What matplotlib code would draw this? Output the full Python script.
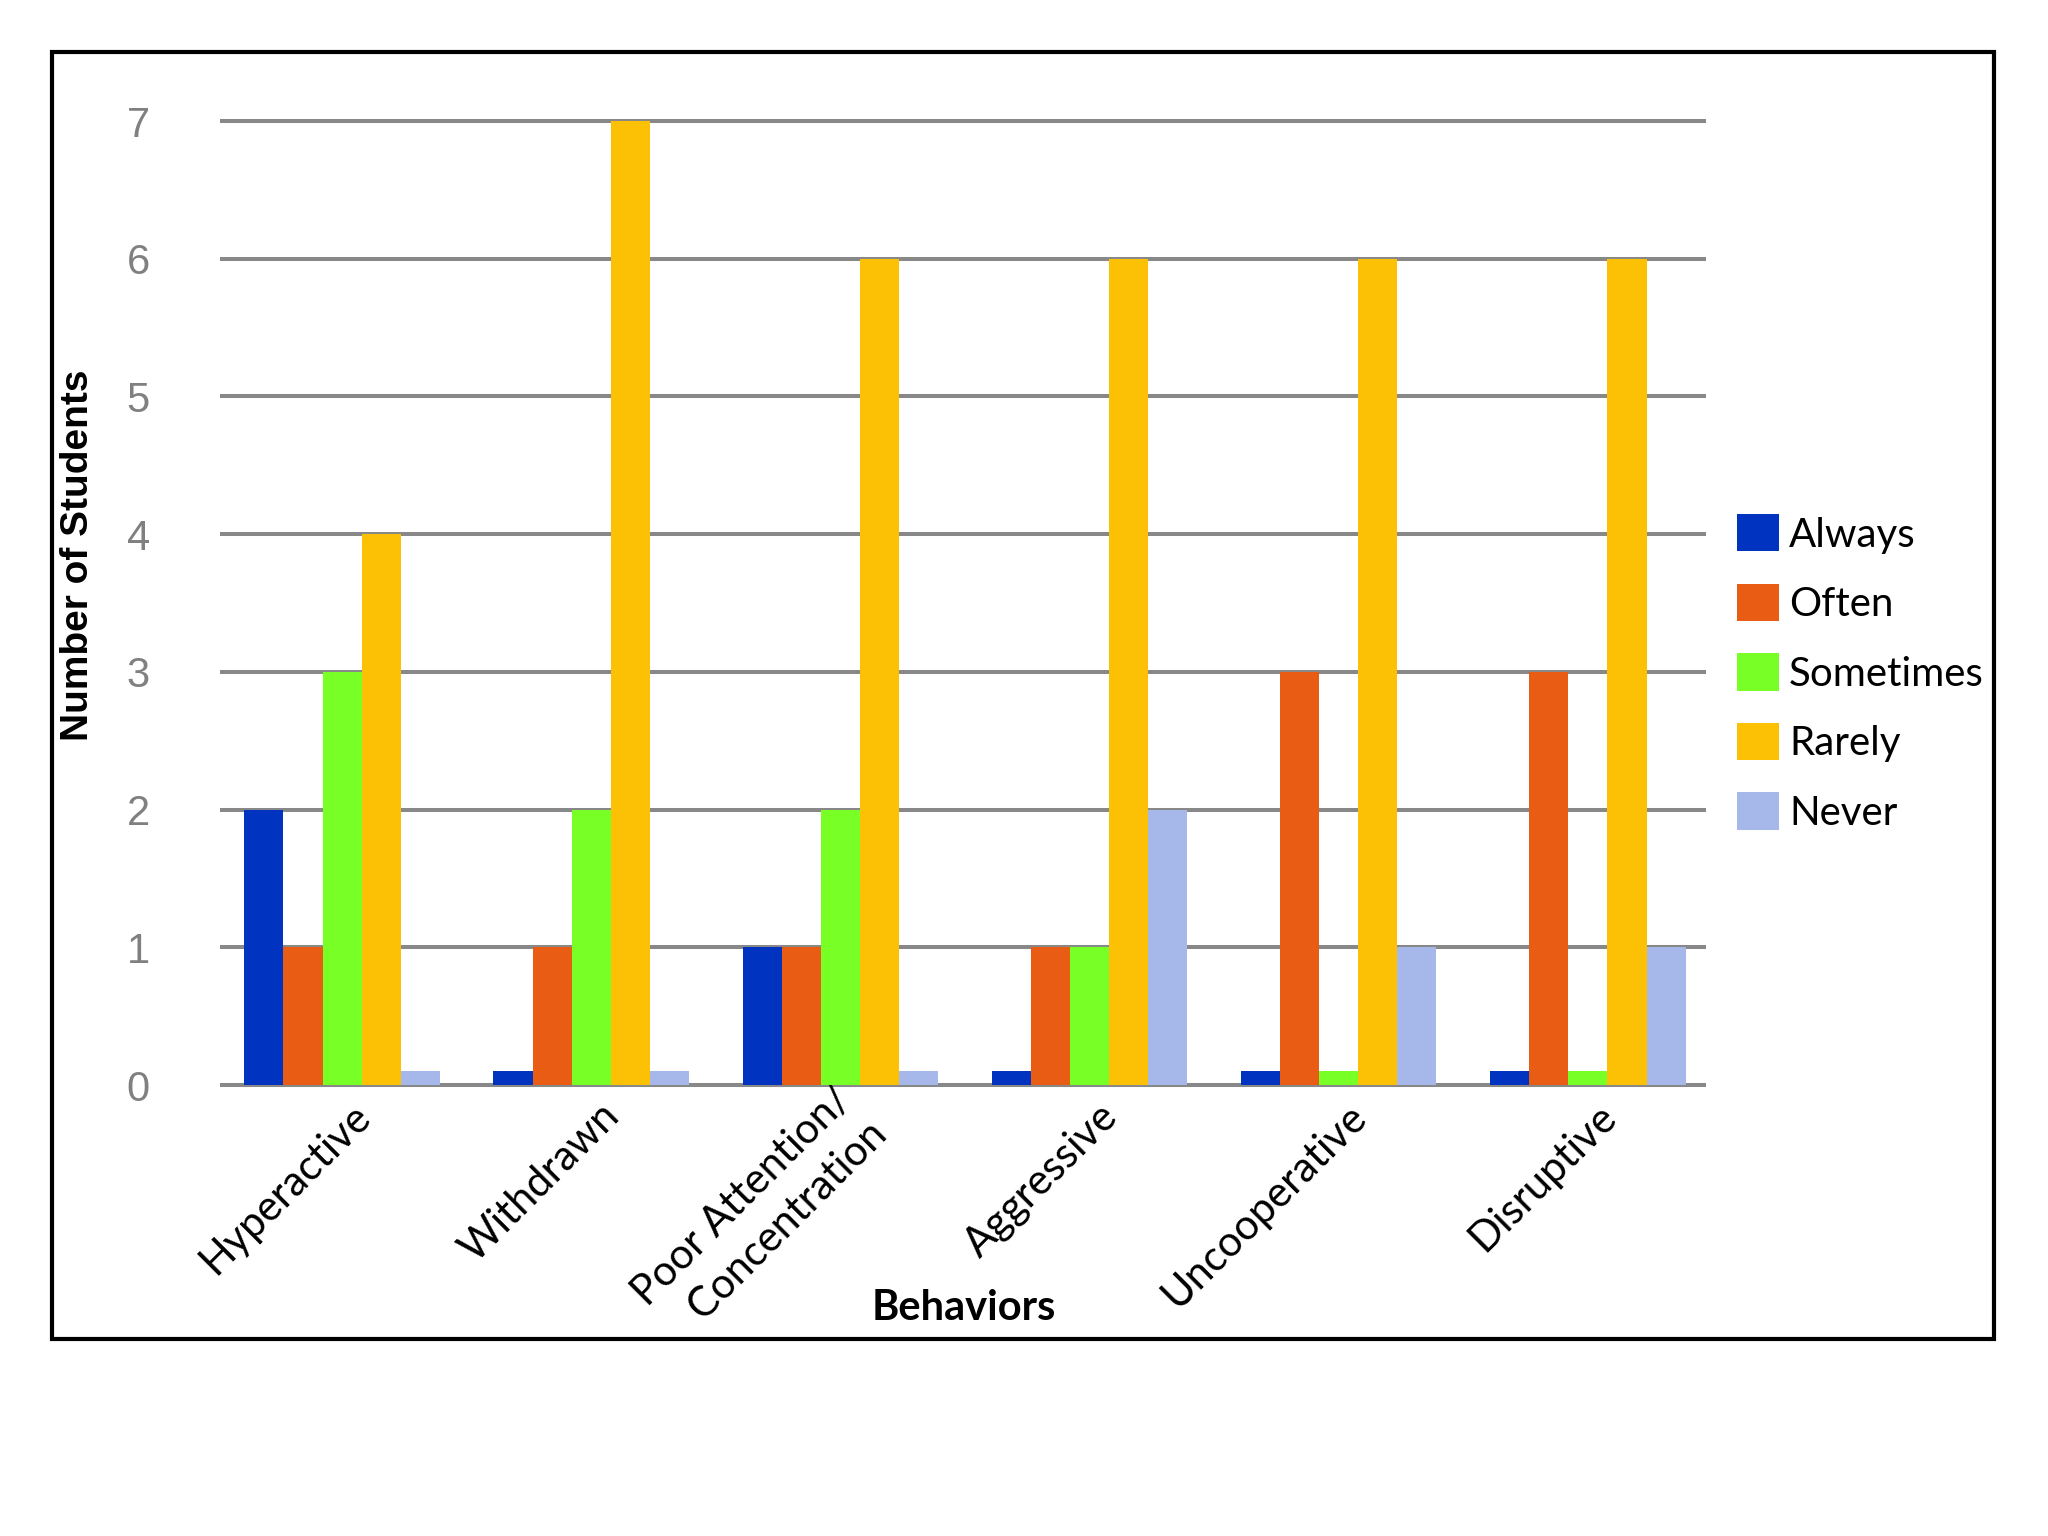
import numpy as np
import matplotlib.pyplot as plt
import matplotlib.transforms as mtransforms
from matplotlib.patches import Rectangle

behaviors = ['Hyperactive', 'Withdrawn', 'Poor Attention/\nConcentration',
             'Aggressive', 'Uncooperative', 'Disruptive']
responses = ['Always', 'Often', 'Sometimes', 'Rarely', 'Never']

# zero counts are drawn as a thin stub of 0.1 in the original
always = [2, 0.1, 1, 0.1, 0.1, 0.1]
often = [1, 1, 1, 1, 3, 3]
sometimes = [3, 2, 2, 1, 0.1, 0.1]
rarely = [4, 7, 6, 6, 6, 6]
never = [0.1, 0.1, 0.1, 2, 1, 1]

colors = ['#0033bf', '#e85c13', '#77ff26', '#fcc004', '#a5b8e9']

fig = plt.figure(figsize=(20.48, 15.36), dpi=100)
ax = fig.add_axes([0.1084, 0.2936, 0.7236, 0.6276])

x = np.arange(len(behaviors))
w = 0.157
series = [always, often, sometimes, rarely, never]
for i, (vals, lab, c) in enumerate(zip(series, responses, colors)):
    ax.bar(x + (i - 2) * w, vals, width=w, color=c, label=lab, zorder=2)

for yv in range(0, 8):
    ax.axhline(yv, color='#888888', lw=2.9, zorder=1, clip_on=False)

ax.set_xlim(-0.482, 5.466)
ax.set_ylim(0, 7)
ax.set_yticks(range(0, 8))
ax.tick_params(axis='y', length=0, pad=52, labelsize=30, labelcolor='#808080')
for t in ax.get_yticklabels():
    t.set_family('Liberation Sans')

ax.set_xticks(x)
ax.set_xticklabels(behaviors, rotation=45, ha='right', va='center',
                   rotation_mode='anchor', fontsize=30, family='Lato',
                   linespacing=1.35)
ax.tick_params(axis='x', length=0, pad=0)
off = mtransforms.ScaledTranslation(0.22, -0.25, fig.dpi_scale_trans)
for t in ax.get_xticklabels():
    t.set_transform(t.get_transform() + off)

for s in ax.spines.values():
    s.set_visible(False)

fig.text(0.0381, 0.6387, 'Number of Students', rotation=90, ha='center',
         va='center', fontsize=28, fontweight='bold', family='Liberation Sans')
fig.text(0.4707, 0.1484, 'Behaviors', ha='center', va='center',
         fontsize=30, fontweight='bold', family='Lato')

leg = fig.legend(loc='center left', bbox_to_anchor=(0.848, 0.5618),
                 frameon=False, fontsize=29, handlelength=1.04,
                 handleheight=1.04, labelspacing=0.75, handletextpad=0.26,
                 borderpad=0, borderaxespad=0)
for t in leg.get_texts():
    t.set_family('Lato')

fig.patches.append(Rectangle((0.0254, 0.128), 0.9482, 0.838,
                             transform=fig.transFigure, fill=False,
                             edgecolor='black', lw=3))

plt.savefig('out.png', dpi=100)
